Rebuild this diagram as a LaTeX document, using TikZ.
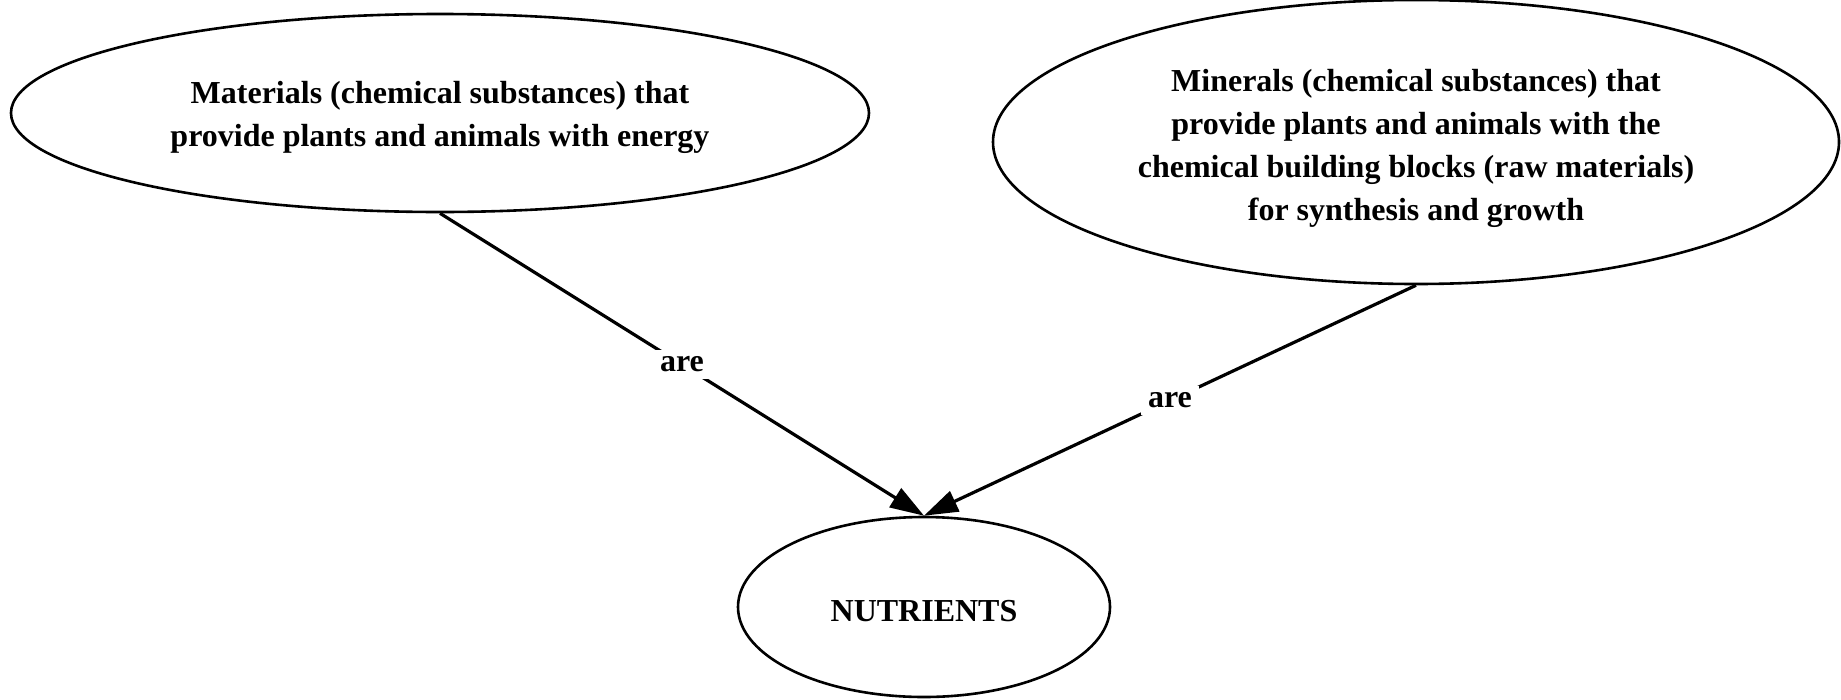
\documentclass[tikz,border=0pt]{standalone}
\usepackage{fontspec}
\setmainfont{Liberation Serif}
\usetikzlibrary{shapes.geometric,arrows.meta,positioning}

\begin{document}
\begin{tikzpicture}[
  x=1pt, y=-1pt,
  font=\fontsize{32}{43}\selectfont\bfseries,
  concept/.style={ellipse, draw=black, line width=2.6pt, fill=white,
                  inner sep=0pt, align=center},
  arrow/.style={-{Triangle[length=34pt,width=22pt]}, line width=3.2pt, draw=black},
  link/.style={fill=white, inner sep=7pt}
]
\useasboundingbox (0,0) rectangle (1841,699);

% --- Concepts ---
\node[concept, minimum width=858pt, minimum height=198pt, text height=75pt] (mat) at (440,113)
  {Materials (chemical substances) that\\provide plants and animals with energy};
\node[concept, minimum width=846pt, minimum height=284pt, text height=165pt] (min) at (1416,142)
  {Minerals (chemical substances) that\\provide plants and animals with the\\chemical building blocks (raw materials)\\for synthesis and growth};
\node[concept, minimum width=372pt, minimum height=180pt, text height=29pt] (nut) at (924,607)
  {NUTRIENTS};

% --- Links ---
\draw[arrow] (mat.south) -- node[link] {are} (nut.north);
\draw[arrow] (min.south) -- node[link] {are} (nut.north);

\end{tikzpicture}
\end{document}
